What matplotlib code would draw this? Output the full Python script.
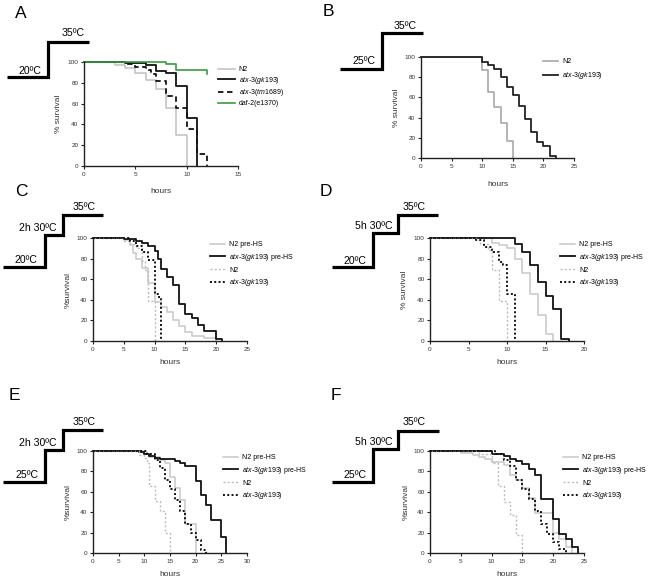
import numpy as np
import matplotlib
matplotlib.use('Agg')
import matplotlib.pyplot as plt

plt.rcParams['font.family'] = ['Liberation Sans', 'DejaVu Sans']
plt.rcParams['mathtext.fontset'] = 'custom'
plt.rcParams['mathtext.rm'] = 'Liberation Sans'
plt.rcParams['mathtext.it'] = 'Liberation Sans:italic'

W, H = 662, 582

# ---- survival data (hours, % survival) ----
# A
a_t_n2 = [0, 3, 4, 5, 6, 7, 8, 9, 10]
a_s_n2 = [100, 97, 94, 89, 83, 74, 56, 30, 0]
a_t_gk = [0, 4, 6, 7, 8, 9, 10, 11]
a_s_gk = [100, 99, 97, 91, 89, 77, 46, 0]
a_t_tm = [0, 4, 5, 6, 6.5, 7, 8, 9, 10, 11, 12]
a_s_tm = [100, 98, 95, 92, 88, 82, 67, 56, 36, 12, 0]
a_t_daf = [0, 8, 9, 12]
a_s_daf = [100, 98, 92, 88]
# B
b_t_n2 = [0, 10, 11, 12, 13, 14, 15]
b_s_n2 = [100, 87, 65, 50, 35, 17, 0]
b_t_gk = [0, 10, 11, 12, 13, 14, 15, 16, 17, 18, 19, 20, 21, 22]
b_s_gk = [100, 95, 92, 88, 80, 70, 62, 51, 39, 26, 16, 12, 2, 0]
# C
c_t_n2hs = [0, 5, 6, 6.5, 7, 8, 9, 10, 11, 12, 13, 14, 15, 16, 18, 20]
c_s_n2hs = [100, 98, 93, 85, 80, 71, 56, 38, 33, 28, 20, 15, 9, 5, 3, 0]
c_t_gkhs = [0, 5, 7, 8, 9, 10, 10.5, 11, 12, 13, 14, 15, 16, 17, 18, 20, 21]
c_s_gkhs = [100, 99, 97, 95, 92, 87, 80, 70, 62, 54, 36, 26, 22, 16, 10, 2, 0]
c_t_n2 = [0, 5, 6, 7, 8, 8.5, 9, 10]
c_s_n2 = [100, 97, 94, 90, 78, 69, 39, 0]
c_t_gk = [0, 6, 7, 8, 9, 10, 10.5, 11]
c_s_gk = [100, 97, 92, 86, 79, 46, 43, 0]
# D
d_t_n2hs = [0, 8, 9, 10, 11, 12, 13, 14, 15, 16]
d_s_n2hs = [100, 95, 93, 90, 80, 66, 46, 25, 7, 0]
d_t_gkhs = [0, 11, 12, 13, 14, 15, 16, 17, 18]
d_s_gkhs = [100, 94, 86, 74, 57, 44, 31, 2, 0]
d_t_n2 = [0, 6, 6.5, 7.5, 8, 9, 10]
d_s_n2 = [100, 98, 94, 88, 69, 39, 0]
d_t_gk = [0, 6, 7, 8, 9, 9.5, 10, 11]
d_s_gk = [100, 98, 91, 86, 77, 74, 46, 0]
# E
e_t_n2hs = [0, 10, 11, 13, 14, 15, 16, 17, 18, 20]
e_s_n2hs = [100, 97, 94, 91, 88, 75, 64, 52, 28, 0]
e_t_gkhs = [0, 9, 10, 11, 12, 13, 16, 17, 18, 20, 21, 22, 23, 25, 26]
e_s_gkhs = [100, 99, 97, 95, 93, 92, 90, 88, 85, 71, 57, 47, 32, 16, 0]
e_t_n2 = [0, 9, 10, 10.5, 11, 12, 13, 14, 15]
e_s_n2 = [100, 96, 93, 88, 66, 51, 41, 20, 0]
e_t_gk = [0, 10.5, 12, 13, 14, 15, 16, 17, 18, 19, 20, 21, 22]
e_s_gk = [100, 97, 91, 83, 72, 63, 52, 41, 28, 20, 13, 3, 0]
# F
f_t_n2hs = [0, 5, 7, 8, 9, 10, 12, 13, 14, 15, 16, 17, 20, 21, 22, 23]
f_s_n2hs = [100, 98, 96, 94, 92, 89, 86, 76, 72, 64, 54, 39, 20, 14, 6, 0]
f_t_gkhs = [0, 10, 12, 13, 14, 15, 16, 17, 18, 20, 21, 22, 23, 24]
f_s_gkhs = [100, 97, 95, 92, 90, 87, 82, 76, 53, 33, 19, 14, 6, 0]
f_t_n2 = [0, 8, 10, 11, 12, 13, 14, 15]
f_s_n2 = [100, 97, 88, 66, 50, 37, 18, 0]
f_t_gk = [0, 10.5, 12, 13, 14, 15, 16, 17, 18, 19, 20, 21, 22]
f_s_gk = [100, 97, 91, 85, 72, 63, 53, 41, 28, 19, 11, 4, 0]

GK = r'$\mathit{atx}$-$\mathit{3(gk193)}$'
TM = r'$\mathit{atx}$-$\mathit{3(tm1689)}$'

# temperature schematics: step breaks (x px) and levels (y px), labels
temp_x = {'A': [7, 48, 89], 'B': [340, 382, 423],
          'C': [3, 45, 63, 103], 'D': [332, 373, 398, 438],
          'E': [3, 45, 63, 103], 'F': [332, 373, 398, 439]}
temp_y = {'A': [77, 42], 'B': [69, 33],
          'C': [267, 235, 215], 'D': [267, 233, 215],
          'E': [482, 450, 430], 'F': [482, 449, 431]}
temp_lab = {'A': [('20ºC', 30, 71), ('35ºC', 73, 33)],
            'B': [('25ºC', 364, 61), ('35ºC', 405, 26)],
            'C': [('20ºC', 26, 260), ('2h 30ºC', 38, 228), ('35ºC', 84, 207)],
            'D': [('20ºC', 355, 261), ('5h 30ºC', 374, 226), ('35ºC', 414, 207)],
            'E': [('25ºC', 27, 475), ('2h 30ºC', 38, 443), ('35ºC', 84, 422)],
            'F': [('25ºC', 355, 475), ('5h 30ºC', 374, 442), ('35ºC', 414, 422)]}
letters = [('A', 21, 13), ('B', 328, 11), ('C', 21, 192), ('D', 326, 192),
           ('E', 14, 395), ('F', 336, 395)]


def box(l, t, r, b):
    return [l / W, 1 - b / H, (r - l) / W, (b - t) / H]


fig = plt.figure(figsize=(W / 100, H / 100), dpi=100)

LIGHT = '#c8c8c8'
DOTG = '#bdbdbd'
BLK = '#111111'


def setup(ax, xmax, ylab, xlab_y, ylab_x):
    ax.set_xlim(0, xmax)
    ax.set_ylim(0, 100)
    ax.set_xticks(np.arange(0, xmax + 1, 5))
    ax.set_yticks(np.arange(0, 101, 20))
    for s in ['top', 'right']:
        ax.spines[s].set_visible(False)
    for s in ['left', 'bottom']:
        ax.spines[s].set_linewidth(1.0)
        ax.spines[s].set_color('#222222')
    ax.tick_params(length=2.5, width=0.8, labelsize=4.6, pad=1.5,
                   colors='#222222', labelcolor='#333333')
    ax.set_xlabel('hours', fontsize=6, color='#333333')
    ax.set_ylabel(ylab, fontsize=6, color='#333333')
    bb = ax.get_position()
    ax.xaxis.set_label_coords(0.5, (1 - xlab_y / H - bb.y0) / bb.height)
    ax.xaxis.label.set_va('center')
    ax.yaxis.set_label_coords((ylab_x / W - bb.x0) / bb.width, 0.5)
    ax.yaxis.label.set_va('center')


def km(ax, t, s, **kw):
    ax.step(t, s, where='post', clip_on=False, **kw)


def leg(ax, x, y, sp):
    ax.legend(loc='upper left', bbox_to_anchor=(x / W, 1 - y / H),
              bbox_transform=fig.transFigure, frameon=False, fontsize=5,
              borderpad=0, borderaxespad=0, handlelength=2.2,
              handletextpad=0.6, labelspacing=sp)


# A
ax = fig.add_axes(box(84, 62, 238, 166))
km(ax, a_t_n2, a_s_n2, color='#c0c0c0', lw=1.1, label='N2')
km(ax, a_t_tm, a_s_tm, color=BLK, lw=1.3, ls=(0, (3, 2)), label=TM)
km(ax, a_t_gk, a_s_gk, color=BLK, lw=1.3, label=GK)
km(ax, a_t_daf, a_s_daf, color='#3a9a45', lw=1.2, label='daf-2(e1370)')
h, l = ax.get_legend_handles_labels()
order = [0, 2, 1, 3]
ax.legend([h[i] for i in order], [l[i] for i in order], loc='upper left',
          bbox_to_anchor=(218 / W, 1 - 66 / H), bbox_transform=fig.transFigure,
          frameon=False, fontsize=5, borderpad=0, borderaxespad=0,
          handlelength=2.4, handletextpad=0.6, labelspacing=0.25)
setup(ax, 15, '% survival', 192, 58)

# B
ax = fig.add_axes(box(421, 57, 574, 158))
km(ax, b_t_n2, b_s_n2, color='#a8a8a8', lw=1.2, label='N2')
km(ax, b_t_gk, b_s_gk, color='#222222', lw=1.3, label=GK)
leg(ax, 543, 58, 0.75)
setup(ax, 25, '% survival', 184, 397)

# C-F
panels = [
    ('C', box(93, 238, 247, 341), 25, '%survival', 363, 68, (210, 241),
     (c_t_n2hs, c_s_n2hs, c_t_gkhs, c_s_gkhs, c_t_n2, c_s_n2, c_t_gk, c_s_gk)),
    ('D', box(430, 238, 584, 341), 20, '% survival', 363, 405, (560, 241),
     (d_t_n2hs, d_s_n2hs, d_t_gkhs, d_s_gkhs, d_t_n2, d_s_n2, d_t_gk, d_s_gk)),
    ('E', box(93, 451, 247, 553), 30, '%survival', 575, 68, (223, 454),
     (e_t_n2hs, e_s_n2hs, e_t_gkhs, e_s_gkhs, e_t_n2, e_s_n2, e_t_gk, e_s_gk)),
    ('F', box(430, 451, 584, 553), 25, '%survival', 574, 406, (563, 454),
     (f_t_n2hs, f_s_n2hs, f_t_gkhs, f_s_gkhs, f_t_n2, f_s_n2, f_t_gk, f_s_gk)),
]
for name, pos, xmax, ylab, xly, ylx, lpos, d in panels:
    ax = fig.add_axes(pos)
    km(ax, d[0], d[1], color=LIGHT, lw=1.1, label='N2 pre-HS')
    km(ax, d[2], d[3], color=BLK, lw=1.3, label=GK + ' pre-HS')
    km(ax, d[4], d[5], color=DOTG, lw=1.0, ls=(0, (1.5, 1.5)), label='N2')
    km(ax, d[6], d[7], color=BLK, lw=1.4, ls=(0, (1, 1.2)), label=GK)
    leg(ax, lpos[0], lpos[1], 0.55)
    setup(ax, xmax, ylab, xly, ylx)

# overlay for temperature schematics and panel letters
ov = fig.add_axes([0, 0, 1, 1])
ov.set_xlim(0, W)
ov.set_ylim(H, 0)
ov.axis('off')
for k in temp_x:
    xs = temp_x[k]
    ys = temp_y[k]
    px, py = [xs[0]], [ys[0]]
    for i in range(len(ys)):
        px += [xs[i + 1]]
        py += [ys[i]]
        if i + 1 < len(ys):
            px += [xs[i + 1]]
            py += [ys[i + 1]]
    ov.plot(px, py, color='black', lw=2.3, solid_joinstyle='miter',
            solid_capstyle='butt')
    for txt, x, y in temp_lab[k]:
        ov.text(x, y, txt, fontsize=7.6, ha='center', va='center')
for txt, x, y in letters:
    ov.text(x, y, txt, fontsize=12.5, ha='center', va='center')

fig.savefig('out.png', dpi=100)
